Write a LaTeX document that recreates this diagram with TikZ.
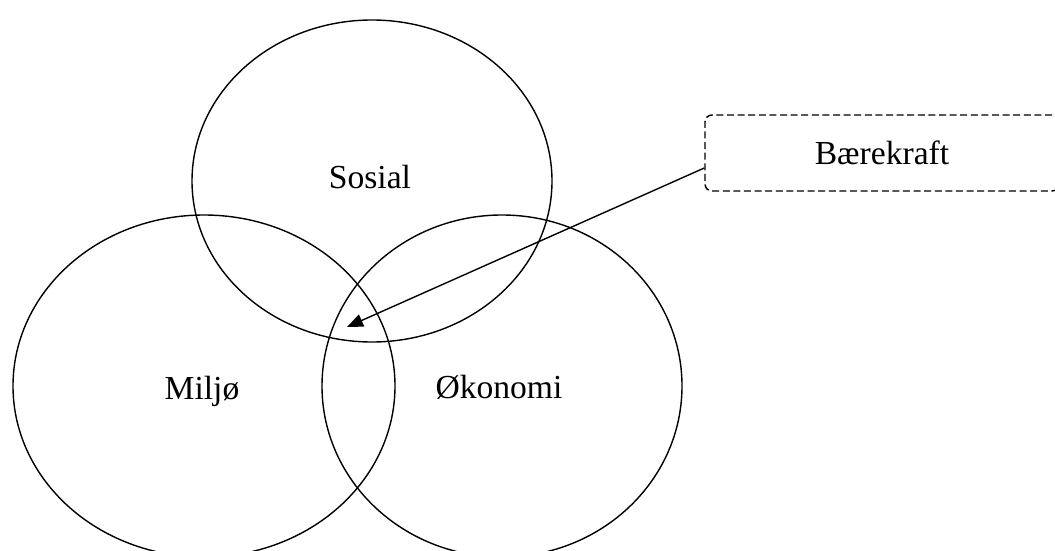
\documentclass[tikz,border=0pt]{standalone}
\usepackage{fontspec}
\setmainfont{Liberation Serif}
\usetikzlibrary{arrows.meta, positioning}

\tikzset{
    sirkel/.style={line width=0.7pt, black},
    etikett/.style={anchor=base, font=\fontsize{16.8}{20}\selectfont},
    boks/.style={draw, dash pattern=on 3.5pt off 1.8pt, rounded corners=3.5pt, line width=0.7pt,
        minimum width=177pt, minimum height=38pt, font=\fontsize{16.8}{20}\selectfont},
}

\begin{document}
\begin{tikzpicture}[x=0.5pt, y=-0.5pt, >={Triangle[length=8pt, width=6.5pt]}]
    \useasboundingbox (0,0) rectangle (1055,551);

    \coordinate (S) at (372,181);
    \coordinate (M) at (204,386);
    \coordinate (O) at (502,386);

    \draw[sirkel] (S) ellipse [x radius=180, y radius=161];
    \draw[sirkel] (M) ellipse [x radius=191, y radius=171];
    \draw[sirkel] (O) ellipse [x radius=180, y radius=171];

    \node[etikett] (sosial) at (370,188) {Sosial};
    \node[etikett] (miljo) at (202,399) {Miljø};
    \node[etikett] (okonomi) at (499,398) {Økonomi};

    % Forklaring
    \node[boks] (baerekraft) at (882,153) {Bærekraft};
    \coordinate (snitt) at (347,327);
    \draw[->, line width=0.7pt] ([yshift=-7.5pt]baerekraft.west) -- (snitt);
\end{tikzpicture}
\end{document}
